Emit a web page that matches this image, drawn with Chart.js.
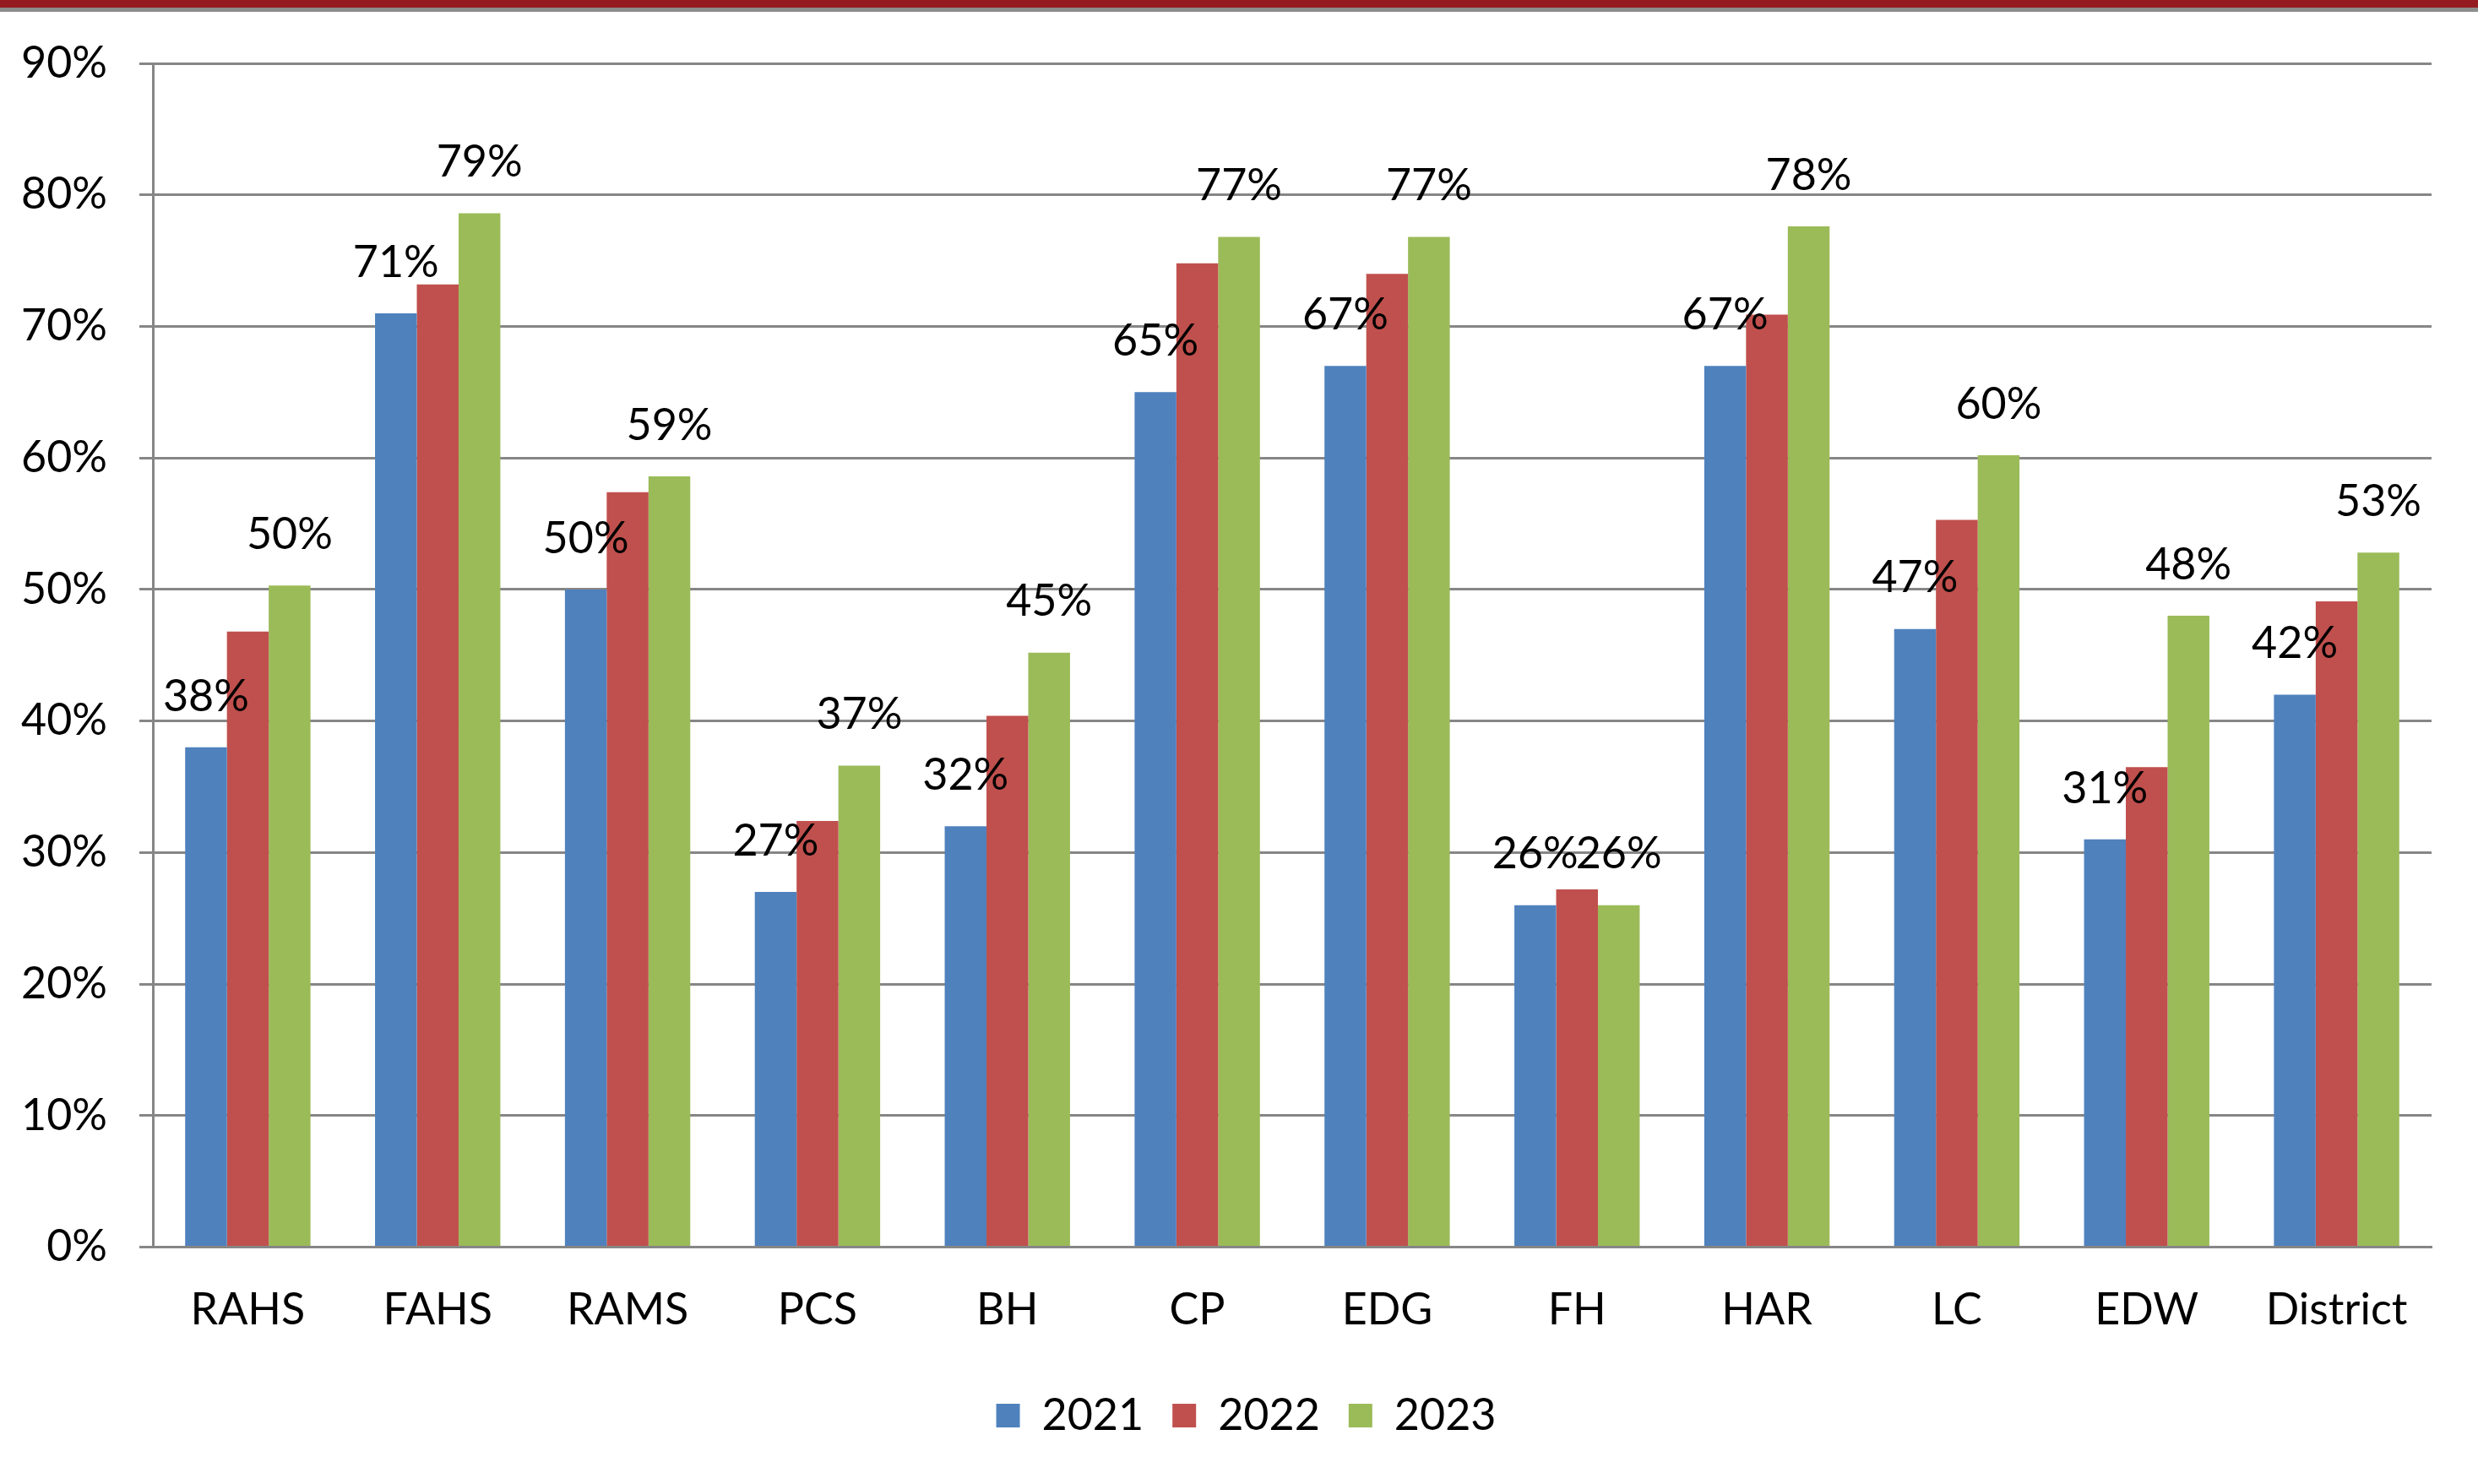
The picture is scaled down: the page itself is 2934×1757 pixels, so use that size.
<!DOCTYPE html>
<html>
<head>
<meta charset="utf-8">
<script src="https://cdn.jsdelivr.net/npm/chart.js@4.4.0/dist/chart.umd.min.js"></script>
<style>
  html, body { margin: 0; padding: 0; background: #fff; }
  #wrap { position: relative; width: 2934px; height: 1757px; overflow: hidden; }
  #band { position: absolute; left: 0; top: 0; width: 2934px; height: 9px; background: #941a1f; border-bottom: 5px solid #8c8c8c; z-index: 2; }
  #chart { position: absolute; left: 0; top: 0; }
</style>
</head>
<body>
<div id="wrap">
  <div id="band"></div>
  <canvas id="chart" width="2934" height="1757"></canvas>
</div>
<script>
const schools = ['RAHS', 'FAHS', 'RAMS', 'PCS', 'BH', 'CP', 'EDG', 'FH', 'HAR', 'LC', 'EDW', 'District'];
const years = ['2021', '2022', '2023'];
const values2021 = [38, 71, 50, 27, 32, 65, 67, 26, 67, 47, 31, 42];
const values2022 = [46.8, 73.2, 57.4, 32.4, 40.4, 74.8, 74.0, 27.2, 70.9, 55.3, 36.5, 49.1];
const values2023 = [50.3, 78.6, 58.6, 36.6, 45.2, 76.8, 76.8, 26, 77.6, 60.2, 48.0, 52.8];
const yTicks = [0, 10, 20, 30, 40, 50, 60, 70, 80, 90];
const colors = ['#4f81bd', '#c0504d', '#9bbb59'];

// Excel style labels: only the 2021 and 2023 bars carry one
const labelledSeries = [0, 2];

const fontFamily = 'Lato, "Open Sans", sans-serif';

const barLabels = {
    id: 'barLabels',
    afterDatasetsDraw(chart) {
        const ctx = chart.ctx;
        ctx.save();
        ctx.font = '52px ' + fontFamily;
        ctx.fillStyle = '#000';
        ctx.textAlign = 'center';
        ctx.textBaseline = 'middle';
        labelledSeries.forEach(i => {
            const meta = chart.getDatasetMeta(i);
            meta.data.forEach((bar, j) => {
                const v = chart.data.datasets[i].data[j];
                ctx.fillText(Math.round(v) + '%', bar.x, bar.y - 60);
            });
        });
        ctx.restore();
    }
};

// legend is centred on the whole page, not on the padded box
const legendShift = {
    id: 'legendShift',
    afterLayout(chart) {
        chart.legend.left += 36;
        chart.legend.right += 36;
    }
};

const ctx = document.querySelector('#chart');
new Chart(ctx, {
    type: 'bar',
    data: {
        labels: schools,
        datasets: [
            { label: years[0], data: values2021, backgroundColor: colors[0] },
            { label: years[1], data: values2022, backgroundColor: colors[1] },
            { label: years[2], data: values2023, backgroundColor: colors[2] }
        ]
    },
    options: {
        responsive: false,
        animation: false,
        layout: { padding: { top: 75, right: 55, left: 0, bottom: 45 } },
        datasets: {
            bar: { categoryPercentage: 0.66, barPercentage: 1.0 }
        },
        plugins: {
            tooltip: { enabled: false },
            legend: {
                position: 'bottom',
                labels: {
                    boxWidth: 28,
                    boxHeight: 28,
                    padding: 34,
                    color: '#000',
                    font: { family: fontFamily, size: 52 }
                }
            }
        },
        scales: {
            x: {
                afterFit(scale) { scale.height -= 9; },
                grid: { display: false, drawTicks: false },
                border: { color: '#868686', width: 3 },
                ticks: {
                    color: '#000',
                    padding: 43,
                    maxRotation: 0,
                    font: { family: fontFamily, size: 52 }
                }
            },
            y: {
                min: 0,
                max: 90,
                afterFit(scale) { scale.width = 181; },
                afterBuildTicks(scale) { scale.ticks = yTicks.map(v => ({ value: v })); },
                grid: { color: '#868686', lineWidth: 3, tickLength: 16 },
                border: { color: '#868686', width: 3 },
                ticks: {
                    color: '#000',
                    padding: 38,
                    font: { family: fontFamily, size: 52 },
                    callback: v => v + '%'
                }
            }
        }
    },
    plugins: [barLabels, legendShift]
});
</script>
</body>
</html>
